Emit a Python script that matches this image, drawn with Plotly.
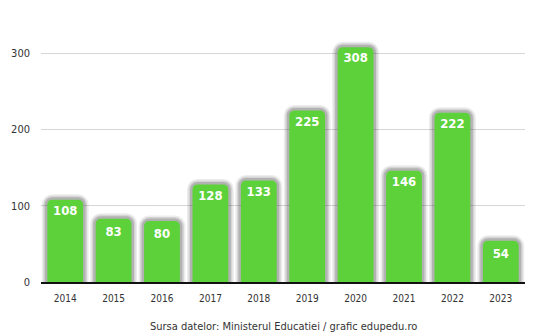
import plotly.graph_objects as go

years = ["2014", "2015", "2016", "2017", "2018", "2019", "2020", "2021", "2022", "2023"]
values = [108, 83, 80, 128, 133, 225, 308, 146, 222, 54]
y_ticks = [0, 100, 200, 300]
source_note = "Sursa datelor: Ministerul Educatiei / grafic edupedu.ro"

GREEN = "#5cd13a"

fig = go.Figure()

# soft drop shadow behind each bar, built from a few translucent outlines
for lw, alpha in [(11, 0.08), (8, 0.12), (5, 0.18)]:
    fig.add_trace(go.Bar(
        x=years, y=values, width=0.74,
        marker=dict(color="rgba(0,0,0,0)", cornerradius=5,
                    line=dict(color=f"rgba(30,30,30,{alpha})", width=lw)),
        hoverinfo="skip", showlegend=False,
    ))

fig.add_trace(go.Bar(
    x=years, y=values, width=0.74,
    marker=dict(color=GREEN, cornerradius=5, line=dict(width=0)),
    text=[str(v) for v in values], textposition="inside",
    insidetextanchor="end", textangle=0,
    textfont=dict(family="DejaVu Sans Condensed", size=13, color="white", weight="bold"),
    showlegend=False,
))

fig.update_layout(
    width=553, height=336,
    margin=dict(l=41, r=28, t=38, b=54),
    barmode="overlay",
    plot_bgcolor="white", paper_bgcolor="white",
    font=dict(family="Liberation Sans", color="#222"),
    xaxis=dict(
        type="category", showgrid=False, ticks="",
        showline=True, linecolor="#111", linewidth=1.5,
        ticklabelstandoff=6,
        tickfont=dict(family="DejaVu Sans Condensed", size=10, color="#333"),
    ),
    yaxis=dict(
        range=[0, 320], tickvals=y_ticks, showgrid=True,
        gridcolor="#d6d6d6", gridwidth=1, zeroline=False,
        ticks="", ticklabelstandoff=10,
        tickfont=dict(family="DejaVu Sans Condensed", size=11, color="#333"),
    ),
    annotations=[dict(
        text=source_note, xref="paper", yref="paper", x=0.5, y=-0.184,
        xanchor="center", yanchor="middle", showarrow=False,
        font=dict(family="DejaVu Sans Condensed", size=11, color="#333"),
    )],
)

fig.write_html("out.html")
